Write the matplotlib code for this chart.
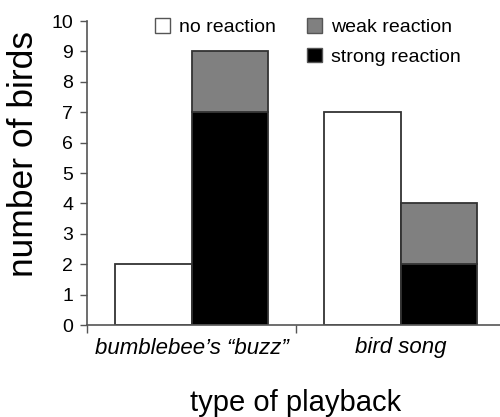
import numpy as np
import matplotlib
matplotlib.use("Agg")
import matplotlib.pyplot as plt
from matplotlib.patches import Patch

plt.rcParams['font.family'] = ['Liberation Sans', 'DejaVu Sans']

# data
groups = ["bumblebee\u2019s \u201cbuzz\u201d", "bird song"]
no_reaction = [2, 7]
strong_reaction = [7, 2]
weak_reaction = [2, 2]

fig = plt.figure(figsize=(5, 4.17), dpi=100)
ax = fig.add_axes([87/500, (417-325)/417, 418/500, 304/417])

x = np.arange(len(groups))
w = 0.367
edge = '#333333'
ax.bar(x - w/2, no_reaction, w, color='white', edgecolor=edge, linewidth=1.3)
ax.bar(x + w/2, strong_reaction, w, color='black', edgecolor=edge, linewidth=1.3)
ax.bar(x + w/2, weak_reaction, w, bottom=strong_reaction, color='#808080', edgecolor=edge, linewidth=1.3)

ax.set_xlim(-0.5, 1.5)
ax.set_ylim(0, 10)
ax.set_yticks(range(0, 11))
ax.set_xticks(x)
ax.set_xticklabels(groups, fontstyle='italic', fontsize=16)
ax.set_xticks([-0.5, 0.5, 1.5], minor=True)
ax.tick_params(axis='x', which='major', length=0, pad=9)
ax.tick_params(axis='x', which='minor', length=6, color='#555555', width=1)
ax.tick_params(axis='y', length=5, pad=5, labelsize=14, color='#555555', width=1)

for s in ['top', 'right']:
    ax.spines[s].set_visible(False)
for s in ['left', 'bottom']:
    ax.spines[s].set_color('#555555')
    ax.spines[s].set_linewidth(1.2)

ax.set_ylabel("number of birds", fontsize=25.5)
ax.yaxis.label.set_va('baseline')
ax.yaxis.set_label_coords(-0.129, 0.5625)
ax.set_xlabel("type of playback", fontsize=21)
ax.xaxis.label.set_va('baseline')
ax.xaxis.set_label_coords(0.5, -0.283)

handles = [Patch(facecolor='white', edgecolor='#555555', label='no reaction'),
           Patch(visible=False, label=''),
           Patch(facecolor='#808080', edgecolor='#555555', label='weak reaction'),
           Patch(facecolor='black', edgecolor='#555555', label='strong reaction')]
ax.legend(handles=handles, ncol=2, frameon=False, fontsize=14,
          loc='upper left', bbox_to_anchor=(155/500, 399/417),
          bbox_transform=fig.transFigure, borderpad=0, borderaxespad=0,
          handlelength=0.78, handleheight=0.78, handletextpad=0.46,
          columnspacing=1.6, labelspacing=0.6)

fig.savefig("out.png", dpi=100)
